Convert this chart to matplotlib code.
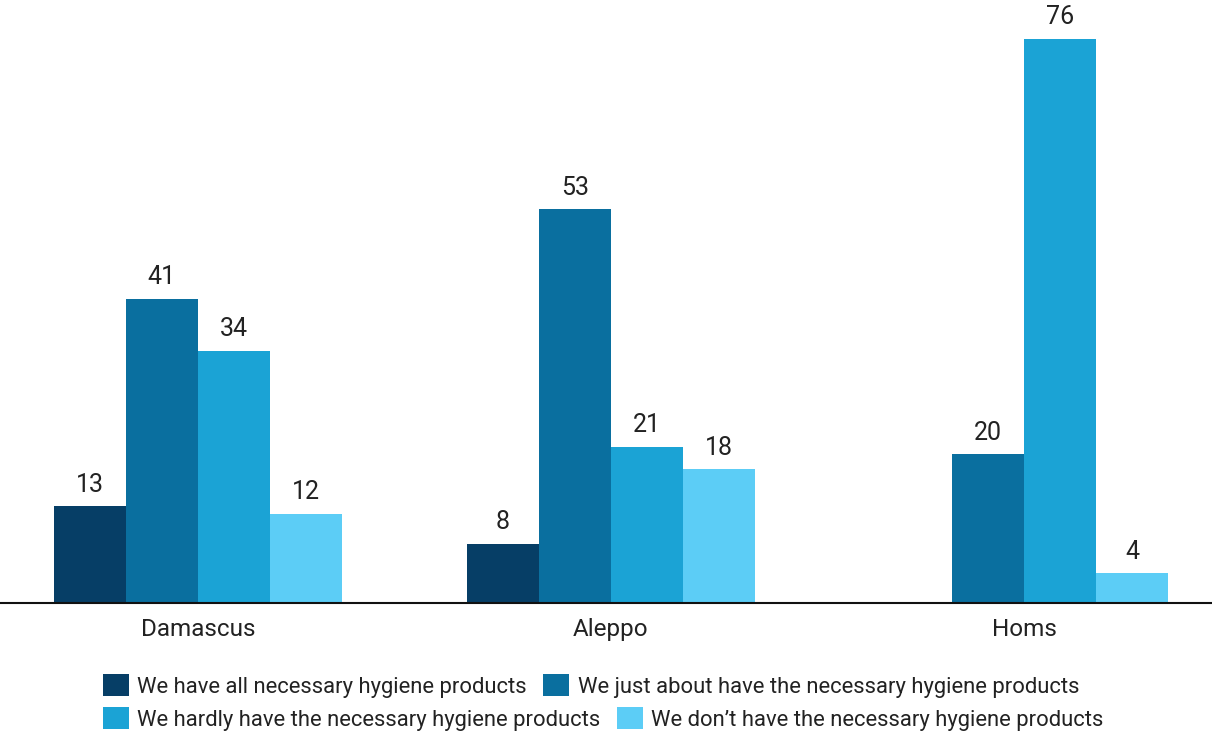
import matplotlib.pyplot as plt
import numpy as np
from matplotlib.patches import Patch

plt.rcParams['font.family'] = ['Roboto', 'DejaVu Sans']

cities = ["Damascus", "Aleppo", "Homs"]
series = [
    "We have all necessary hygiene products",
    "We just about have the necessary hygiene products",
    "We hardly have the necessary hygiene products",
    "We don’t have the necessary hygiene products",
]
have_all = [13, 8, None]
just_about = [41, 53, 20]
hardly = [34, 21, 76]
dont_have = [12, 18, 4]
colors = ["#063e66", "#0a6f9f", "#1ba3d5", "#5ccdf6"]

values = [have_all, just_about, hardly, dont_have]
text_color = "#222222"

fig = plt.figure(figsize=(12.12, 7.37), dpi=100)
ax = fig.add_axes([0, 134 / 737, 1, 603 / 737])

x = np.arange(len(cities))
width = 0.1745
for i, (vals, col) in enumerate(zip(values, colors)):
    offs = (i - 1.5) * width
    for xi, v in zip(x, vals):
        if v is None:
            continue
        ax.bar(xi + offs, v, width=width, color=col, linewidth=0)
        ax.annotate(str(v), (xi + offs, v), xytext=(0, 7), textcoords="offset points",
                    ha="center", va="bottom", fontsize=18, color=text_color)

ax.set_xlim(-0.479, 2.455)
ax.set_ylim(0, 81.2)
ax.set_xticks(x)
ax.set_xticklabels(cities, fontsize=17.5, color=text_color)
ax.tick_params(axis="x", length=0, pad=11)
ax.set_yticks([])
for s in ["top", "left", "right"]:
    ax.spines[s].set_visible(False)
ax.spines["bottom"].set_linewidth(1.5)
ax.spines["bottom"].set_color("#111111")

# legend: two rows, left aligned
handles = [Patch(facecolor=c, edgecolor="none") for c in colors]
kw = dict(frameon=False, fontsize=15.85, handlelength=1.18, handleheight=1.18,
          handletextpad=0.38, columnspacing=0.75, borderpad=0, borderaxespad=0,
          ncol=2, loc="upper left", labelcolor=text_color)
leg1 = fig.legend(handles[:2], series[:2], bbox_to_anchor=(103 / 1212, 1 - 674 / 737), **kw)
leg2 = fig.legend(handles[2:], series[2:], bbox_to_anchor=(103 / 1212, 1 - 707 / 737), **kw)

fig.savefig("out.png", dpi=100)
